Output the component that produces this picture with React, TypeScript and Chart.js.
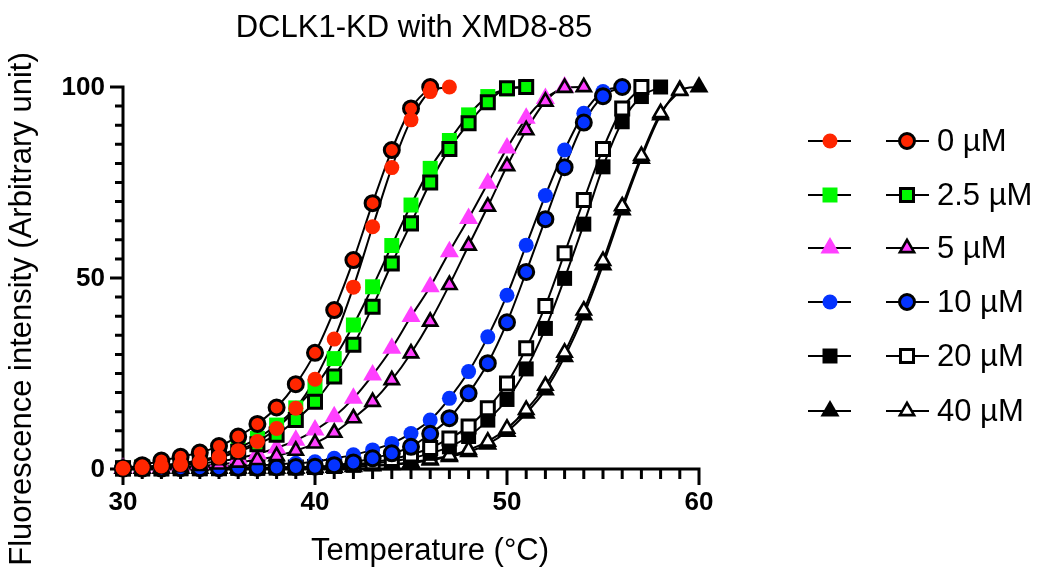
import React, { useEffect, useRef } from 'react';
import { Chart, registerables } from 'chart.js';

Chart.register(...registerables);

// Melting temperature scan, °C
const temperatures = [
  30, 31, 32, 33, 34, 35, 36, 37, 38, 39,
  40, 41, 42, 43, 44, 45, 46, 47, 48, 49,
  50, 51, 52, 53, 54, 55, 56, 57, 58, 59, 60,
];

const concentrationLabels = ['0 µM', '2.5 µM', '5 µM', '10 µM', '20 µM', '40 µM'];
const xTickLabels = [30, 40, 50, 60];
const yTickLabels = [0, 50, 100];

// Normalised fluorescence, each list starts at 30 °C.
// Replicate 1 (solid markers)
const solid0 = [0.2, 0.4, 0.8, 1.2, 1.9, 3.1, 4.8, 7.2, 10.6, 15.9, 23.5, 34, 47.6, 63.4, 78.9, 91.4, 98.8, 100];
const solid2p5 = [0.2, 0.5, 1.0, 1.5, 2.3, 3.5, 5.5, 8, 11.5, 16, 21.5, 28.9, 37.7, 47.7, 58.5, 69.1, 78.7, 86, 92.7, 97.5, 99.5, 100];
const solid5 = [0.2, 0.4, 0.6, 1.0, 1.4, 2.0, 2.8, 4.0, 5.5, 7.5, 10.2, 13.7, 18.5, 24.6, 31.6, 39.9, 47.7, 56.9, 65.6, 74.8, 84, 91.8, 97, 100];
const solid10 = [0.2, 0.3, 0.4, 0.5, 0.6, 0.7, 0.8, 1.0, 1.2, 1.5, 1.9, 2.8, 3.7, 5.0, 6.7, 9.3, 12.8, 18.5, 25.5, 34.6, 45.5, 58.6, 71.6, 83.5, 93.1, 98.8, 100];
const solid20 = [0.1, 0.1, 0.1, 0.1, 0.1, 0.2, 0.2, 0.2, 0.3, 0.3, 0.5, 0.7, 1.0, 1.4, 2.0, 2.8, 4.1, 5.8, 8.5, 12.8, 18.2, 26.2, 36.8, 49.9, 64.1, 79.1, 90.9, 97.5, 100];
const solid40 = [0.1, 0.1, 0.1, 0.1, 0.1, 0.1, 0.2, 0.2, 0.2, 0.2, 0.3, 0.4, 0.6, 0.8, 1.1, 1.6, 2.3, 3.2, 4.5, 6.5, 9.8, 14.6, 20.7, 29.4, 40.3, 53.4, 67.8, 81.3, 92.7, 99.2, 100];

// Replicate 2 (outlined markers)
const open0 = [0.2, 1.0, 2.2, 3.2, 4.3, 6.0, 8.5, 11.8, 16.1, 22.2, 30.4, 41.6, 54.7, 69.6, 83.5, 94.4, 100];
const open2p5 = [0.2, 0.4, 0.8, 1.3, 2.0, 3.0, 4.5, 6.5, 9.0, 12.8, 17.6, 24.2, 32.5, 42.5, 53.8, 64.3, 75, 83.8, 90.5, 96, 99.7, 100];
const open5 = [0.1, 0.2, 0.3, 0.5, 0.8, 1.2, 1.7, 2.4, 3.4, 4.8, 6.7, 9.5, 13.3, 17.6, 23.3, 30.3, 38.6, 48.2, 58.5, 68.7, 79.3, 88.7, 96.2, 99.8, 100];
const open10 = [0.1, 0.1, 0.1, 0.2, 0.2, 0.2, 0.3, 0.3, 0.4, 0.5, 0.6, 1.0, 1.7, 2.8, 4.1, 5.8, 9.2, 13.3, 19.8, 27.7, 38.4, 51.6, 65.4, 79, 90.7, 97.6, 100];
const open20 = [0.1, 0.1, 0.1, 0.2, 0.2, 0.2, 0.3, 0.3, 0.4, 0.4, 0.5, 0.8, 1.2, 1.8, 2.6, 3.8, 5.5, 8.0, 11.1, 15.9, 22.4, 31.6, 42.7, 56.5, 70.4, 83.8, 94.4, 100];
const open40 = [0.1, 0.1, 0.1, 0.1, 0.1, 0.1, 0.2, 0.2, 0.2, 0.2, 0.3, 0.4, 0.6, 0.9, 1.2, 1.8, 2.5, 3.5, 5.0, 7.2, 10.6, 15.5, 21.8, 30.5, 41.5, 54.5, 68.8, 82, 93.2, 99];

const solidSeries = [solid0, solid2p5, solid5, solid10, solid20, solid40];
const openSeries = [open0, open2p5, open5, open10, open20, open40];

const FONT = '"Liberation Sans", Arial, Helvetica, sans-serif';

type Marker = {
  shape: 'circle' | 'rect' | 'triangle';
  radius: number;
  fill: string;
  borderWidth: number;
};

const colours = ['#FF2600', '#00F900', '#FF40FF', '#0433FF', '#000000', '#000000'];
const shapes: Marker['shape'][] = ['circle', 'rect', 'triangle', 'circle', 'rect', 'triangle'];

const solidRadius = { circle: 7.5, rect: 10.6, triangle: 11 };
const openRadius = { circle: 7.5, rect: 9.2, triangle: 8.2 };
const openBorder = { circle: 3, rect: 3, triangle: 2.6 };

const solidMarker = (i: number): Marker => ({
  shape: shapes[i],
  radius: solidRadius[shapes[i]],
  fill: colours[i],
  borderWidth: 0,
});

const openMarker = (i: number): Marker => ({
  shape: shapes[i],
  radius: openRadius[shapes[i]],
  fill: i >= 4 ? '#FFFFFF' : colours[i],
  borderWidth: openBorder[shapes[i]],
});

const toPoints = (values: number[]) => values.map((y, i) => ({ x: temperatures[i], y }));

// black fitted curves underneath every marker
const curveDatasets = [...solidSeries, ...openSeries].map((values) => ({
  type: 'line' as const,
  data: toPoints(values),
  borderColor: '#000000',
  borderWidth: 2,
  pointRadius: 0,
  cubicInterpolationMode: 'monotone' as const,
  fill: false,
  clip: false as const,
  order: 100,
}));

// marker stacking, bottom to top
const stacking: Array<[number, 'solid' | 'open']> = [
  [5, 'solid'], [5, 'open'], [4, 'solid'], [4, 'open'], [3, 'solid'], [3, 'open'],
  [2, 'solid'], [2, 'open'], [1, 'solid'], [1, 'open'], [0, 'open'], [0, 'solid'],
];

const markerDatasets = stacking.map(([i, kind], k) => {
  const m = kind === 'solid' ? solidMarker(i) : openMarker(i);
  const values = kind === 'solid' ? solidSeries[i] : openSeries[i];
  return {
    type: 'line' as const,
    label: `${concentrationLabels[i]} ${kind}`,
    data: toPoints(values),
    showLine: false,
    pointStyle: m.shape,
    pointRadius: m.radius,
    pointBackgroundColor: m.fill,
    pointBorderColor: '#000000',
    pointBorderWidth: m.borderWidth,
    clip: false as const,
    order: 50 - k,
  };
});

function drawMarker(ctx: CanvasRenderingContext2D, m: Marker, x: number, y: number) {
  const r = m.radius;
  ctx.beginPath();
  if (m.shape === 'circle') {
    ctx.arc(x, y, r, 0, Math.PI * 2);
  } else if (m.shape === 'rect') {
    const s = r * Math.SQRT1_2;
    ctx.rect(x - s, y - s, 2 * s, 2 * s);
  } else {
    let a = 0;
    ctx.moveTo(x + Math.sin(a) * r, y - Math.cos(a) * r);
    a += (2 * Math.PI) / 3;
    ctx.lineTo(x + Math.sin(a) * r, y - Math.cos(a) * r);
    a += (2 * Math.PI) / 3;
    ctx.lineTo(x + Math.sin(a) * r, y - Math.cos(a) * r);
    ctx.closePath();
  }
  ctx.fillStyle = m.fill;
  ctx.fill();
  if (m.borderWidth > 0) {
    ctx.lineWidth = m.borderWidth;
    ctx.strokeStyle = '#000000';
    ctx.stroke();
  }
}

// axis frame with long major and short minor ticks
const axesPlugin = {
  id: 'prismAxes',
  beforeDatasetsDraw(chart: Chart) {
    const { ctx } = chart;
    const xs = chart.scales.x;
    const ys = chart.scales.y;
    const x0 = xs.getPixelForValue(30);
    const x1 = xs.getPixelForValue(60);
    const y0 = ys.getPixelForValue(0);
    const y1 = ys.getPixelForValue(100);
    ctx.save();
    ctx.strokeStyle = '#000000';
    ctx.lineWidth = 3;
    ctx.lineCap = 'butt';
    ctx.beginPath();
    ctx.moveTo(x0, y1 - 1.5);
    ctx.lineTo(x0, y0 + 1.5);
    ctx.moveTo(x0 - 1.5, y0);
    ctx.lineTo(x1 + 1.5, y0);
    for (let v = 0; v <= 100; v += 5) {
      const py = ys.getPixelForValue(v);
      const len = v % 50 === 0 ? 13 : 8;
      ctx.moveTo(x0, py);
      ctx.lineTo(x0 - len, py);
    }
    for (let t = 30; t <= 60; t += 1) {
      const px = xs.getPixelForValue(t);
      const len = t % 10 === 0 ? 16 : 10;
      ctx.moveTo(px, y0);
      ctx.lineTo(px, y0 + len);
    }
    ctx.stroke();
    ctx.restore();
  },
};

const legendRows = [141, 195, 248, 302, 356, 411];

const textPlugin = {
  id: 'prismText',
  afterDraw(chart: Chart) {
    const { ctx } = chart;
    const xs = chart.scales.x;
    const ys = chart.scales.y;
    const x0 = xs.getPixelForValue(30);
    const y0 = ys.getPixelForValue(0);
    ctx.save();
    ctx.fillStyle = '#000000';

    // tick labels
    ctx.font = `bold 26px ${FONT}`;
    ctx.textAlign = 'right';
    ctx.textBaseline = 'middle';
    yTickLabels.forEach((v) => {
      ctx.fillText(String(v), x0 - 18, ys.getPixelForValue(v) + 1);
    });
    ctx.textAlign = 'center';
    xTickLabels.forEach((t) => {
      ctx.fillText(String(t), xs.getPixelForValue(t), y0 + 34);
    });

    // titles
    ctx.font = `31px ${FONT}`;
    ctx.fillText('DCLK1-KD with XMD8-85', 414, 28);
    ctx.fillText('Temperature (°C)', 430, 551);
    ctx.save();
    ctx.translate(22, 309);
    ctx.rotate(-Math.PI / 2);
    ctx.fillText('Fluorescence intensity (Arbitrary unit)', 0, 0);
    ctx.restore();

    // legend: solid replicate, outlined replicate, concentration
    ctx.textAlign = 'left';
    concentrationLabels.forEach((label, i) => {
      const y = legendRows[i];
      ctx.lineWidth = 2;
      ctx.strokeStyle = '#000000';
      ctx.beginPath();
      ctx.moveTo(808, y);
      ctx.lineTo(851, y);
      ctx.moveTo(886, y);
      ctx.lineTo(929, y);
      ctx.stroke();
      drawMarker(ctx, solidMarker(i), 830, y);
      drawMarker(ctx, openMarker(i), 907, y);
      ctx.fillStyle = '#000000';
      ctx.fillText(label, 937, y + 1);
    });
    ctx.restore();
  },
};

export default function App() {
  const canvasRef = useRef<HTMLCanvasElement>(null);

  useEffect(() => {
    const canvas = canvasRef.current;
    if (!canvas) return;
    const chart = new Chart(canvas, {
      type: 'line',
      data: { datasets: [...curveDatasets, ...markerDatasets] as any },
      options: {
        animation: false,
        responsive: false,
        devicePixelRatio: 1,
        events: [],
        layout: { padding: { left: 123, right: 341, top: 87, bottom: 102 } },
        plugins: {
          legend: { display: false },
          tooltip: { enabled: false },
          title: { display: false },
        },
        scales: {
          x: { type: 'linear', min: 30, max: 60, display: false },
          y: { type: 'linear', min: 0, max: 100, display: false },
        },
      },
      plugins: [axesPlugin, textPlugin],
    });
    return () => chart.destroy();
  }, []);

  return (
    <div style={{ position: 'fixed', left: 0, top: 0, width: 1040, height: 571, background: '#ffffff' }}>
      <canvas ref={canvasRef} width={1040} height={571} style={{ display: 'block' }} />
    </div>
  );
}
